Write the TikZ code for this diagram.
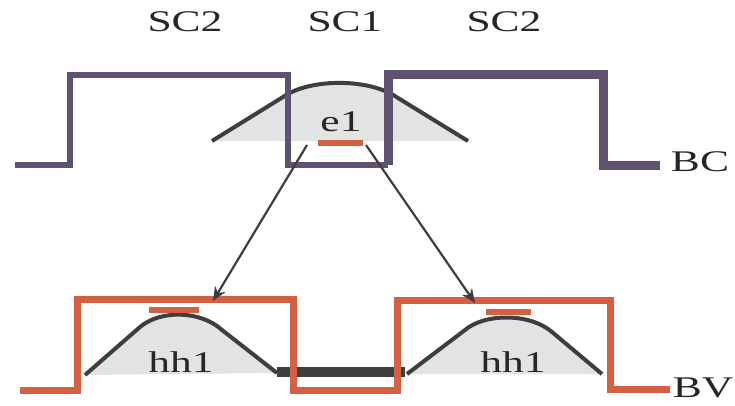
\documentclass[tikz,border=0pt]{standalone}
\usepackage{fontspec}
\setmainfont{Liberation Serif}
\usetikzlibrary{arrows.meta}
\definecolor{bcpurple}{RGB}{94,82,112}
\definecolor{bvred}{RGB}{212,96,66}
\definecolor{banddark}{RGB}{64,62,60}
\definecolor{wellgray}{RGB}{226,227,227}

\begin{document}
\begin{tikzpicture}[x=1pt, y=-1pt,
    lbl/.style={text=black!85, font=\fontsize{30}{30}\selectfont, xscale=1.45, inner sep=0pt},
    hump/.style={draw=banddark, line width=4pt, line join=round},
    level/.style={bvred, line width=6pt},
    trans/.style={banddark, line width=2.2pt, -{Stealth[length=14pt, width=12pt]}}]
    \useasboundingbox (0,0) rectangle (735,405);

    % 电子波函数 e1
    \fill[wellgray] (212,141) -- (283,97) .. controls (310,78) and (370,78) .. (398,98) -- (468,141) -- cycle;
    \draw[hump] (212,141) -- (283,97) .. controls (310,78) and (370,78) .. (398,98) -- (468,141);

    % 空穴波函数 hh1
    \fill[wellgray] (85,375) -- (140,327) .. controls (160,310) and (200,310) .. (222,330) -- (277,373) -- cycle;
    \draw[hump] (85,375) -- (140,327) .. controls (160,310) and (200,310) .. (222,330) -- (277,373);
    \fill[wellgray] (407,374) -- (465,330) .. controls (485,313) and (530,313) .. (552,332) -- (602,374) -- cycle;
    \draw[hump] (407,374) -- (465,330) .. controls (485,313) and (530,313) .. (552,332) -- (602,374);
    \draw[banddark, line width=10pt] (277,372) -- (405,372);

    % 导带 BC
    \draw[bcpurple, line width=6pt] (15,165) -- (70,165) -- (70,75) -- (288,75) -- (288,165) -- (388,165);
    \draw[bcpurple, line width=9pt, line join=miter] (388,165) -- (388,74) -- (603,74) -- (603,165) -- (660,165);

    % 价带 BV
    \draw[bvred, line width=7pt] (20,390) -- (77,390) -- (77,299) -- (293,299) -- (293,390)
        -- (397,390) -- (397,300) -- (610,300) -- (610,389) -- (670,389);

    % 能级
    \draw[level] (318,143) -- (363,143);
    \draw[level] (149,310) -- (199,310);
    \draw[level] (486,312) -- (531,312);

    % 标注
    \node[lbl] (sc2l) at (185,22) {SC2};
    \node[lbl] (sc1) at (345,22) {SC1};
    \node[lbl] (sc2r) at (504,22) {SC2};
    \node[lbl] (bc) at (700,162) {BC};
    \node[lbl] (bv) at (703,388) {BV};
    \node[lbl] (e1) at (341,122) {e1};
    \node[lbl] (hh1l) at (181,362) {hh1};
    \node[lbl] (hh1r) at (513,362) {hh1};

    % 跃迁
    \coordinate (e1left) at (307,145);
    \coordinate (e1right) at (366,145);
    \coordinate (hh1left) at (213,301);
    \coordinate (hh1right) at (475,303);
    \draw[trans] (e1left) -- (hh1left);
    \draw[trans] (e1right) -- (hh1right);
\end{tikzpicture}
\end{document}
